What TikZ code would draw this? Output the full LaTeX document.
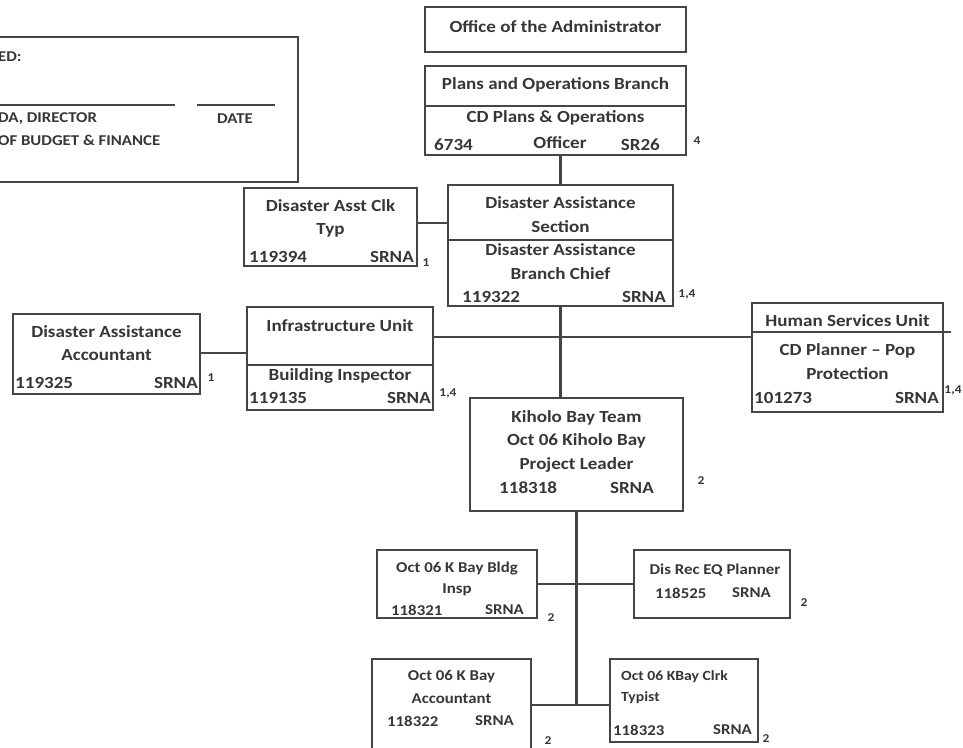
\documentclass[tikz,border=0pt]{standalone}
\usepackage{fontspec}
\setmainfont{Carlito}[FakeStretch=1.12]
\definecolor{ln}{HTML}{454545}
\definecolor{tc}{HTML}{363636}
\begin{document}
\begin{tikzpicture}[x=1pt,y=-1pt,
  box/.style={draw=ln, line width=1.6pt, inner sep=0pt, rectangle},
  tx/.style={font=\fontsize{17}{19}\selectfont\bfseries, text=tc, inner sep=0pt},
  sx/.style={font=\fontsize{15}{17}\selectfont\bfseries, text=tc, inner sep=0pt},
  ssx/.style={font=\fontsize{14}{16}\selectfont\bfseries, text=tc, inner sep=0pt},
  nt/.style={font=\fontsize{12}{14}\selectfont\bfseries, text=tc, inner sep=0pt},
  conn/.style={draw=ln, line width=2.4pt},
  div/.style={draw=ln, line width=1.4pt}]
\useasboundingbox (0,0) rectangle (963,747);
\clip (0,0) rectangle (963,747);

% approval box
\node[box, minimum width=313pt, minimum height=145pt] (appr) at (141.5,109.5) {};
\draw[div] (-10,105) -- (175,105);
\draw[div] (197,105) -- (275,105);
\node[sx, anchor=west] (appr1) at (-2,57) {ED:};
\node[sx, anchor=west] (appr2) at (-2,119) {DA, DIRECTOR};
\node[sx, anchor=west] (appr3) at (-2,140) {OF BUDGET \& FINANCE};
\node[sx] (appr4) at (235,119) {DATE};

% office
\node[box, minimum width=261pt, minimum height=45pt] (office) at (555.5,29.5) {};
\node[tx] (officet) at (555.5,27) {Office of the Administrator};

% plans
\node[box, minimum width=261pt, minimum height=89pt] (plans) at (555.5,110.5) {};
\draw[div] (plans.west |- 0,106) -- (plans.east |- 0,106);
\node[tx] (plans1) at (555.5,85) {Plans and Operations Branch};
\node[tx] (plans2) at (555.5,118) {CD Plans \& Operations};
\node[tx, anchor=west] (plans3) at (434,145) {6734};
\node[tx] (plans4) at (560,143) {Officer};
\node[tx, anchor=east] (plans5) at (660,145) {SR26};
\node[nt] (plans6) at (697,141) {4};

% disaster asst clk
\node[box, minimum width=173pt, minimum height=78pt] (clk) at (330.5,227) {};
\node[tx] (clk1) at (330.5,206) {Disaster Asst Clk};
\node[tx] (clk2) at (330.5,230) {Typ};
\node[tx, anchor=west] (clk3) at (249,257) {119394};
\node[tx, anchor=east] (clk4) at (414,257) {SRNA};
\node[nt] (clk5) at (426,263) {1};

% disaster assistance section
\node[box, minimum width=225pt, minimum height=121pt] (dsec) at (560.5,245.5) {};
\draw[div] (dsec.west |- 0,240) -- (dsec.east |- 0,240);
\node[tx] (dsec1) at (560.5,203) {Disaster Assistance};
\node[tx] (dsec2) at (560.5,227) {Section};
\node[tx] (dsec3) at (560.5,250) {Disaster Assistance};
\node[tx] (dsec4) at (560.5,274) {Branch Chief};
\node[tx, anchor=west] (dsec5) at (462,297) {119322};
\node[tx, anchor=east] (dsec6) at (666,297) {SRNA};
\node[nt] (dsec7) at (687,294) {1,4};

% infrastructure unit
\node[box, minimum width=186pt, minimum height=103pt] (infra) at (340,358.5) {};
\draw[div] (infra.west |- 0,365) -- (infra.east |- 0,365);
\node[tx] (infra1) at (340,326) {Infrastructure Unit};
\node[tx] (infra2) at (340,376) {Building Inspector};
\node[tx, anchor=west] (infra3) at (249,398) {119135};
\node[tx, anchor=east] (infra4) at (431,398) {SRNA};
\node[nt] (infra5) at (448,393) {1,4};

% disaster assistance accountant
\node[box, minimum width=187pt, minimum height=80pt] (acct) at (106.5,354) {};
\node[tx] (acct1) at (106.5,332) {Disaster Assistance};
\node[tx] (acct2) at (106.5,355) {Accountant};
\node[tx, anchor=west] (acct3) at (15,383) {119325};
\node[tx, anchor=east] (acct4) at (198,383) {SRNA};
\node[nt] (acct5) at (211,378) {1};

% human services unit
\node[box, minimum width=191pt, minimum height=109pt] (hsu) at (847.5,357.5) {};
\draw[div] (hsu.west |- 0,332) -- (951,332);
\node[tx] (hsu1) at (847.5,321) {Human Services Unit};
\node[tx] (hsu2) at (847.5,351) {CD Planner -- Pop};
\node[tx] (hsu3) at (847.5,374) {Protection};
\node[tx, anchor=west] (hsu4) at (754,398) {101273};
\node[tx, anchor=east] (hsu5) at (939,398) {SRNA};
\node[nt] (hsu6) at (953,390) {1,4};

% kiholo bay
\node[box, minimum width=213pt, minimum height=113pt] (kih) at (576.5,454.5) {};
\node[tx] (kih1) at (576.5,418) {Kiholo Bay Team};
\node[tx] (kih2) at (576.5,441) {Oct 06 Kiholo Bay};
\node[tx] (kih3) at (576.5,465) {Project Leader};
\node[tx, anchor=west] (kih4) at (499,488) {118318};
\node[tx, anchor=east] (kih5) at (654,488) {SRNA};
\node[nt] (kih6) at (701,481) {2};

% bldg insp
\node[box, minimum width=160pt, minimum height=68pt] (bldg) at (457,584) {};
\node[sx] (bldg1) at (457,568) {Oct 06 K Bay Bldg};
\node[sx] (bldg2) at (457,590) {Insp};
\node[sx, anchor=west] (bldg3) at (391,610) {118321};
\node[sx, anchor=east] (bldg4) at (524,610) {SRNA};
\node[nt] (bldg5) at (551,618) {2};

% dis rec eq planner
\node[box, minimum width=156pt, minimum height=68pt] (disrec) at (712,584) {};
\node[sx] (disrec1) at (715,570) {Dis Rec EQ Planner};
\node[sx, anchor=west] (disrec2) at (655,593) {118525};
\node[sx, anchor=east] (disrec3) at (771,593) {SRNA};
\node[nt] (disrec4) at (804,603) {2};

% k bay accountant
\node[box, minimum width=159pt, minimum height=95pt] (kacct) at (451.5,706.5) {};
\node[sx] (kacct1) at (451.5,677) {Oct 06 K Bay};
\node[sx] (kacct2) at (451.5,699) {Accountant};
\node[sx, anchor=west] (kacct3) at (387,721) {118322};
\node[sx, anchor=east] (kacct4) at (514,721) {SRNA};
\node[nt] (kacct5) at (548,741) {2};

% kbay clrk typist
\node[box, minimum width=148pt, minimum height=83pt] (typ) at (684,700.5) {};
\node[ssx, anchor=west] (typ1) at (621,677) {Oct 06 KBay Clrk};
\node[ssx, anchor=west] (typ2) at (621,698) {Typist};
\node[sx, anchor=west] (typ3) at (613,730) {118323};
\node[sx, anchor=east] (typ4) at (752,730) {SRNA};
\node[nt] (typ5) at (766,739) {2};

% connectors
\draw[conn] (dsec.north |- plans.south) -- (dsec.north);
\draw[conn] (clk.east |- 0,223) -- (dsec.west |- 0,223);
\draw[conn] (dsec.south) -- (dsec.south |- kih.north);
\draw[conn] (infra.east |- 0,337) -- (hsu.west |- 0,337);
\draw[conn] (acct.east |- 0,353) -- (infra.west |- 0,353);
\coordinate (bot) at (kih.south |- 0,705);
\draw[conn] (kih.south) -- (bot);
\draw[conn] (bldg.east) -- (disrec.west);
\draw[conn] (kacct.east |- bot) -- (typ.west |- bot);
\end{tikzpicture}
\end{document}
